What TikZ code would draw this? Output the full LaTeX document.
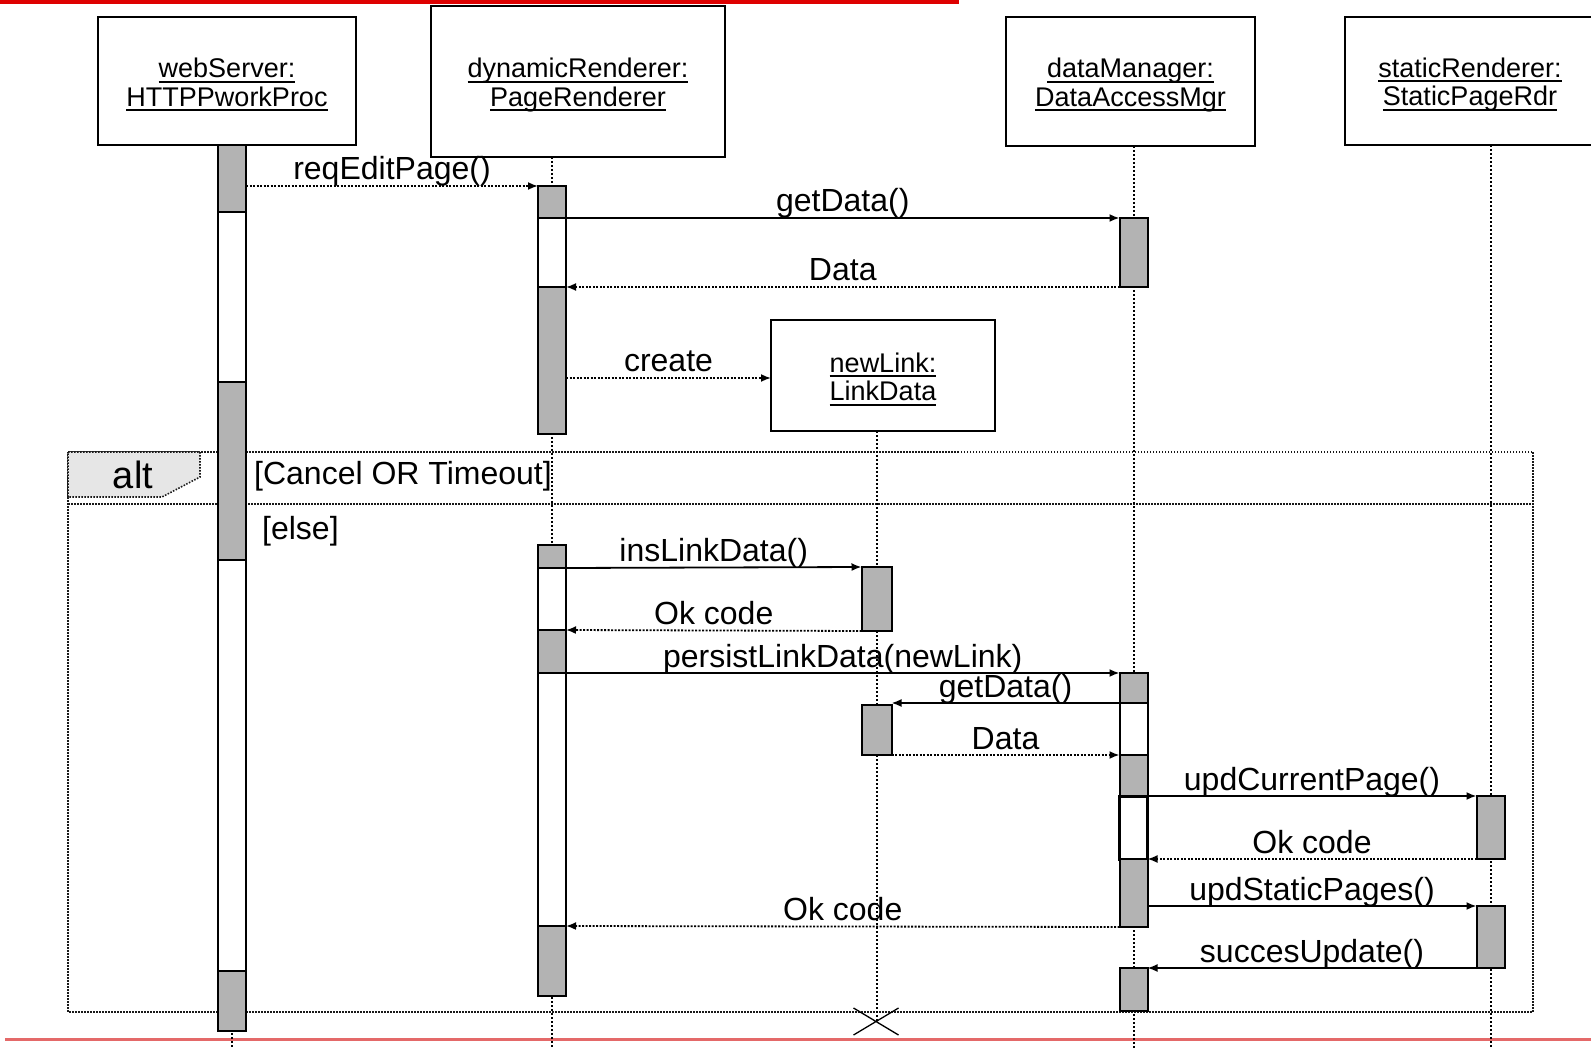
\documentclass[tikz,border=0pt]{standalone}
\usepackage{fontspec}
\setmainfont{Liberation Sans}
\usetikzlibrary{arrows.meta,calc}

\definecolor{bargray}{RGB}{179,179,179}
\definecolor{taggray}{RGB}{230,230,230}
\definecolor{topred}{RGB}{222,0,0}
\definecolor{botred}{RGB}{228,105,105}

\newcommand\objfont{\fontsize{27}{28.5}\selectfont}
\newcommand\msgfont{\fontsize{32}{36}\selectfont}
% underlined object name with a rule just under the baseline
\newcommand\objul[1]{\leavevmode\setbox0\hbox{#1}\rlap{\vrule height -3pt depth 5pt width \wd0}\box0}
% activation bar: name, x, top, bottom, fill
\newcommand\actbox[5]{\node[actbar,fill=#5,minimum height={(#4)-(#3)}] (#1) at (#2,{((#3)+(#4))/2}) {};}

\tikzset{
  obj/.style={draw, line width=2pt, inner sep=0pt, outer sep=0pt},
  objtxt/.style={inner sep=0pt, align=center, font=\objfont, yshift=-3.5pt},
  actbar/.style={draw, line width=2pt, minimum width=28pt, inner sep=0pt, outer sep=0pt},
  msg/.style={line width=1.8pt, -{Latex[length=10pt,width=8pt]}},
  ret/.style={msg, dash pattern=on 2pt off 1.5pt},
  lbl/.style={font=\msgfont, anchor=base, yshift=6pt, inner sep=0pt},
  life/.style={line width=2pt, dash pattern=on 2pt off 2pt},
  frm/.style={line width=1.6pt, dash pattern=on 1.5pt off 1.5pt, draw=black!90},
  guard/.style={font=\msgfont, anchor=base west, inner sep=0pt}
}

\begin{document}
\begin{tikzpicture}[x=1pt, y=-1pt]
\useasboundingbox (0,0) rectangle (1591,1048);

% header and footer rules
\fill[topred] (0,0) rectangle (959,4);
\fill[botred] (5,1037.5) rectangle (1591,1040.5);

% alt combined fragment
\coordinate (fr-nw) at (68,452);
\coordinate (fr-se) at (1533,1012);
\draw[frm] (fr-nw) rectangle (fr-se);
\draw[frm] (fr-nw |- 0,504) -- (fr-se |- 0,504);
\draw[frm, fill=taggray] (fr-nw) -- (200,452) -- (200,477) -- (162,497) -- (68,497) -- cycle;
\node[font=\fontsize{38}{40}\selectfont, anchor=base, inner sep=0pt] (alt) at (133,489) {alt};
\node[guard] (g1) at (254,485) {[Cancel OR Timeout]};
\node[guard] (g2) at (262,539) {[else]};

% objects
\node[obj, minimum width=258pt, minimum height=128pt] (ws) at (227,81) {};
\node[objtxt] (ws-t) at (ws.center) {\objul{webServer:}\\\objul{HTTPPworkProc}};
\node[obj, minimum width=294pt, minimum height=151pt] (dr) at (578,81.5) {};
\node[objtxt] (dr-t) at (dr.center) {\objul{dynamicRenderer:}\\\objul{PageRenderer}};
\node[obj, minimum width=249pt, minimum height=129pt] (dm) at (1130.5,81.5) {};
\node[objtxt] (dm-t) at (dm.center) {\objul{dataManager:}\\\objul{DataAccessMgr}};
\node[obj, minimum width=250pt, minimum height=128pt] (sr) at (1470,81) {};
\node[objtxt] (sr-t) at (sr.center) {\objul{staticRenderer:}\\\objul{StaticPageRdr}};
\node[obj, minimum width=224pt, minimum height=111pt] (nl) at (883,375.5) {};
\node[objtxt] (nl-t) at (nl.center) {\objul{newLink:}\\\objul{LinkData}};

% lifelines
\coordinate (ws-l) at (232,1048);
\coordinate (dr-l) at (552,1048);
\coordinate (dm-l) at (1133.5,1048);
\coordinate (sr-l) at (1490.5,1048);
\coordinate (nl-x) at (876.5,1021);
\draw[life] (ws.south -| ws-l) -- (ws-l);
\draw[life] (dr.south -| dr-l) -- (dr-l);
\draw[life] (dm.south -| dm-l) -- (dm-l);
\draw[life] (sr.south -| sr-l) -- (sr-l);
\draw[life] (nl.south -| nl-x) -- (nl-x);
\draw[line width=1.3pt] ($(nl-x)+(-23,-13)$) -- ($(nl-x)+(22,14)$)
  ($(nl-x)+(-23,14)$) -- ($(nl-x)+(22,-13)$);

% activation bars
\actbox{ws1}{232}{145}{212}{bargray}
\actbox{ws2}{232}{212}{382}{white}
\actbox{ws3}{232}{382}{560}{bargray}
\actbox{ws4}{232}{560}{971}{white}
\actbox{ws5}{232}{971}{1031}{bargray}

\actbox{dr1}{552}{186}{218}{bargray}
\actbox{dr2}{552}{218}{287}{white}
\actbox{dr3}{552}{287}{434}{bargray}
\actbox{dr4}{552}{545}{568}{bargray}
\actbox{dr5}{552}{568}{630}{white}
\actbox{dr6}{552}{630}{673}{bargray}
\actbox{dr7}{552}{673}{926}{white}
\actbox{dr8}{552}{926}{996}{bargray}

\begin{scope}[actbar/.append style={minimum width=30pt}]
\actbox{nl1}{876.5}{567}{631}{bargray}
\actbox{nl2}{876.5}{705}{755}{bargray}
\end{scope}

\actbox{dm1}{1133.5}{218}{287}{bargray}
\actbox{dm2}{1133.5}{673}{703}{bargray}
\actbox{dm3}{1133.5}{703}{755}{white}
\actbox{dm4}{1133.5}{755}{796}{bargray}
\begin{scope}[actbar/.append style={line width=3pt}]
\actbox{dm5}{1133.5}{796}{859}{white}
\end{scope}
\actbox{dm6}{1133.5}{859}{927}{bargray}
\actbox{dm7}{1133.5}{968}{1011}{bargray}

\actbox{sr1}{1490.5}{796}{859}{bargray}
\actbox{sr2}{1490.5}{906}{968}{bargray}

% messages
\draw[ret] (ws1.east |- dr1.north) -- node[lbl]{reqEditPage()} (dr1.north west);
\draw[msg] (dr2.north east) -- node[lbl]{getData()} (dm1.north west);
\draw[ret] (dm1.south west) -- node[lbl]{Data} (dr2.south east);
\draw[ret] (dr3.east |- 0,378) -- node[lbl]{create} (nl.west |- 0,378);
\draw[msg] (dr5.north east) -- node[lbl]{insLinkData()} (nl1.north west);
\draw[ret] (nl1.south west) -- node[lbl]{Ok code} (dr5.south east);
\draw[msg] (dr7.north east) -- node[lbl]{persistLinkData(newLink)} (dm2.north west);
\draw[msg] (dm3.north west) -- node[lbl]{getData()} (nl2.east |- dm3.north);
\draw[ret] (nl2.south east) -- node[lbl]{Data} (dm3.south west);
\draw[msg] (dm5.north east) -- node[lbl]{updCurrentPage()} (sr1.north west);
\draw[ret] (sr1.south west) -- node[lbl]{Ok code} (dm5.south east);
\draw[msg] (dm6.east |- sr2.north) -- node[lbl]{updStaticPages()} (sr2.north west);
\draw[msg] (sr2.south west) -- node[lbl]{succesUpdate()} (dm7.north east);
\draw[ret] (dm6.south west) -- node[lbl]{Ok code} (dr7.south east);
\end{tikzpicture}
\end{document}
